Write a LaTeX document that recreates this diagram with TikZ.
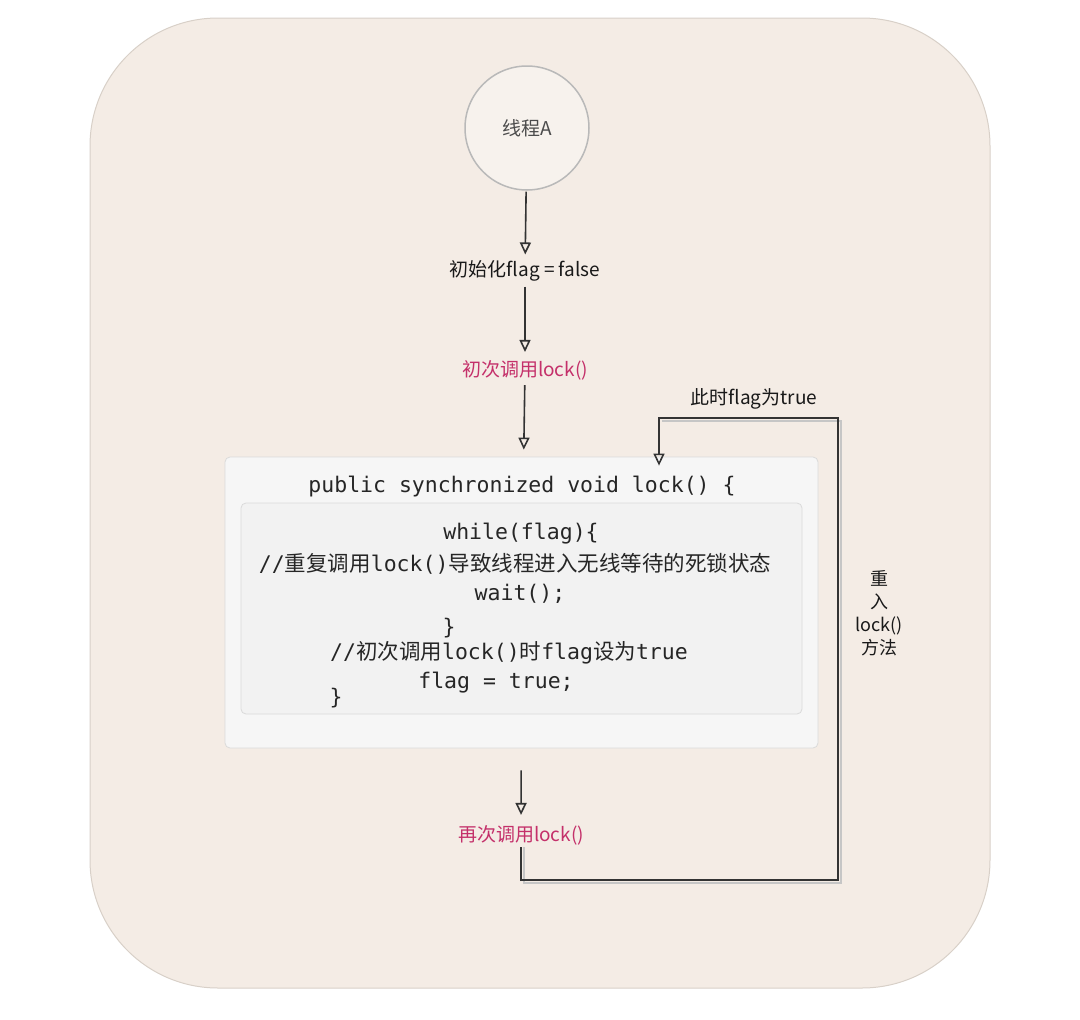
\documentclass[tikz,border=0pt]{standalone}
\usepackage{fontspec}
\usepackage{xcolor}
\usepackage{tikz}
\usetikzlibrary{arrows.meta, positioning, calc}
\newfontfamily\cjk{Noto Sans CJK SC}
\newfontfamily\codefont{DejaVu Sans Mono}
\definecolor{bgbeige}{HTML}{F4ECE5}
\definecolor{bgedge}{HTML}{D8D0C8}
\definecolor{callred}{HTML}{C4306A}
\definecolor{codebg}{HTML}{F6F6F6}
\definecolor{innerbg}{HTML}{F2F2F2}
\definecolor{codeedge}{HTML}{DADADA}

\begin{document}
\begin{tikzpicture}[
  x=1pt, y=-1pt,
  >={Triangle[open, length=12pt, width=11pt]},
  every node/.style={font=\cjk\fontsize{19}{22}\selectfont},
  thread/.style={circle, draw=gray!55, line width=1.5pt, fill=bgbeige!70!white,
    minimum size=124pt, text=black!70, font=\cjk\fontsize{19}{22}\selectfont},
  plain/.style={inner sep=2pt, text=black!90},
  call/.style={plain, text=callred},
  outerbox/.style={draw=codeedge, fill=codebg, rounded corners=5pt, line width=0.8pt,
    minimum width=593pt, minimum height=291pt},
  innerbox/.style={draw=codeedge, fill=innerbg, rounded corners=5pt, line width=0.8pt,
    minimum width=561pt, minimum height=211pt},
  code/.style={inner sep=0pt, text=black!85, font=\codefont\fontsize{21.5}{24}\selectfont},
  flow/.style={->, line width=1.6pt, draw=black!80},
  loopshade/.style={line width=2pt, draw=gray!45}
]
\useasboundingbox (0,0) rectangle (1080,1020);

% --- Background card ---
\draw[fill=bgbeige, draw=bgedge, line width=1pt, rounded corners=128pt] (90,18) rectangle (990,988);

% --- Thread and first steps ---
\node[thread] (threadA) at (527,128) {线程A};
\node[plain] (initflag) at (525,271) {初始化flag = false};
\node[call] (firstcall) at (525,370) {初次调用lock()};

% --- Code boxes ---
\node[outerbox] (lockbox) at (521.5,602.5) {};
\node[innerbox] (body) at (521.5,608.5) {};
\node[code] (sig) at (522,487) {public synchronized void lock() \{};
\node[code] (whileln) at (521,534) {while(flag)\{};
\node[code] (waitcmt) at (515,564) {//{\cjk 重复调用}lock(){\cjk 导致线程进入无线等待的死锁状态}};
\node[code] (waitln) at (520,594) {wait();};
\node[code] (whileend) at (449,628) {\}};
\node[code] (flagcmt) at (509,653) {//{\cjk 初次调用}lock(){\cjk 时}flag{\cjk 设为}true};
\node[code] (flagln) at (496,683) {flag = true;};
\node[code] (lockend) at (336,698) {\}};

% --- Second call and loop ---
\node[call] (secondcall) at (521,835) {再次调用lock()};
\node[plain] (truenote) at (754,399) {此时flag为true};
\node[plain, align=center, font=\cjk\fontsize{18}{23}\selectfont] (reentry) at (879,613) {重\\入\\lock()\\方法};

\coordinate (loopbr) at (838,880);
\coordinate (looptr) at (838,418);
\coordinate (looptl) at (659,418);

% --- Arrows: main flow ---
\draw[flow, shorten <=1pt, shorten >=4pt] (threadA) -- (initflag);
\draw[flow, shorten <=3pt, shorten >=6pt] (initflag) -- (firstcall);
\draw[flow, shorten <=3pt, shorten >=7pt] (firstcall) -- (lockbox);
\draw[flow, shorten <=22pt, shorten >=8pt] (lockbox) -- (secondcall);

% --- Arrows: re-entry loop ---
\draw[loopshade] ($(secondcall.south)+(3,0)$) -- ($(secondcall.south |- loopbr)+(3,3)$)
  -- ($(loopbr)+(3,3)$) -- ($(looptr)+(3,3)$) -- ($(looptl)+(3,3)$);
\draw[flow] (secondcall.south) -- (secondcall.south |- loopbr) -- (loopbr)
  -- (looptr) -- (looptl) -- ($(looptl |- lockbox.north)+(0,9)$);

\end{tikzpicture}
\end{document}
